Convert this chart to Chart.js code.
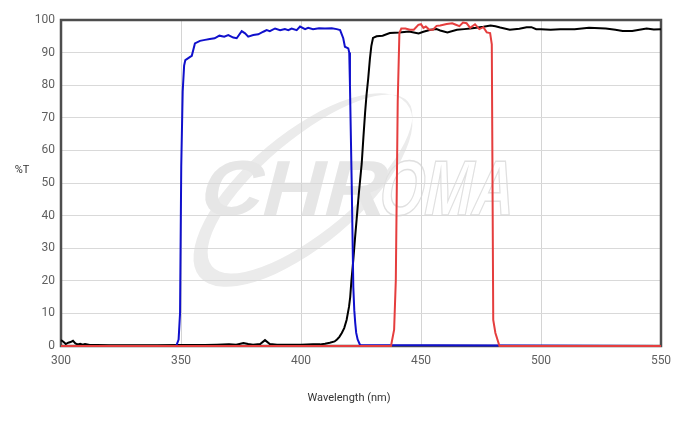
<!DOCTYPE html>
<html>
<head>
<meta charset="utf-8">
<script src="https://cdn.jsdelivr.net/npm/chart.js@4/dist/chart.umd.min.js"></script>
<style>
  html, body { margin: 0; padding: 0; background: #fff; }
  #wrap { width: 700px; height: 429px; position: relative; }
</style>
</head>
<body>
<div id="wrap"><canvas id="c"></canvas></div>
<script>
// ---- data (wavelength nm, %T) ----
const xTicks = [300, 350, 400, 450, 500, 550];
const yTicks = [0, 10, 20, 30, 40, 50, 60, 70, 80, 90, 100];

const blueX = [300, 348, 349, 349.6, 350.1, 350.7, 351.3, 351.8, 353.8, 354.5, 355.8, 357.9, 360, 362, 364, 366, 368, 369.7, 371.8, 373.2, 375.3, 376.7, 378, 380.1, 382.2, 384.3, 385.7, 387, 389.2, 391.3, 393.3, 394.7, 396.1, 398.2, 399.6, 401.7, 403, 405, 407.5, 410, 412.8, 414.9, 416.3, 417.6, 418.3, 419.7, 420.1, 420.4, 421.1, 421.8, 422.2, 422.6, 423, 423.6, 424.6, 550];
const blueY = [0, 0, 2, 10, 55, 78, 86, 87.7, 88.7, 89, 92.8, 93.6, 93.9, 94.2, 94.4, 95.2, 94.9, 95.4, 94.6, 94.4, 96.6, 95.9, 94.9, 95.4, 95.6, 96.4, 96.9, 96.6, 97.4, 96.9, 97.2, 96.9, 97.4, 96.9, 98, 97.2, 97.6, 97.2, 97.5, 97.4, 97.5, 97.2, 96.9, 94.4, 91.8, 91.3, 90, 80, 51, 18, 11, 7, 4, 2, 0.3, 0];

const blackX = [300, 301, 302, 303, 304, 305, 306, 307, 308, 309, 310, 312, 315, 320, 330, 340, 350, 360, 365, 370, 373, 376, 378, 380, 383, 385, 387, 390, 395, 400, 405, 408, 410, 412, 414, 415, 416, 417, 418, 419, 420, 420.5, 421, 421.8, 422.5, 423.2, 424, 425.3, 426, 426.7, 427.3, 428, 428.7, 429.3, 430, 431.5, 434, 437, 441, 445, 449, 451, 454, 456.5, 458, 461, 465, 468, 470.5, 473, 476, 479, 481, 483, 487, 491, 494, 496, 498, 500, 504, 508, 514, 520, 527, 531, 534, 538, 541, 544, 547, 550];
const blackY = [1.8, 1.3, 0.6, 1.0, 1.2, 1.6, 0.8, 0.5, 0.7, 0.4, 0.6, 0.3, 0.3, 0.2, 0.2, 0.2, 0.3, 0.3, 0.4, 0.5, 0.4, 0.9, 0.6, 0.4, 0.6, 1.8, 0.6, 0.4, 0.4, 0.4, 0.5, 0.5, 0.7, 1.0, 1.4, 2, 2.8, 4, 5.5, 8, 12, 15, 20, 26.5, 33, 39, 46, 56, 64, 71.5, 77, 82, 88, 92, 94.5, 95, 95.2, 96, 96.2, 96.5, 95.9, 96.4, 97, 97.2, 96.8, 96.2, 97, 97.2, 97.4, 97.6, 97.9, 98.3, 98.1, 97.7, 97, 97.3, 97.8, 97.8, 97.2, 97.2, 97, 97.2, 97.2, 97.6, 97.4, 97, 96.6, 96.6, 97, 97.4, 97.1, 97.2];

const redX = [300, 437.5, 438.8, 439.5, 440.3, 441, 441.8, 443.5, 445.4, 447, 448.9, 450, 451, 452, 453.5, 455, 456.5, 458, 460.7, 463, 464, 466, 467.5, 469, 470.5, 472.5, 474.3, 476, 477.4, 478.8, 479.5, 480.1, 481, 482.7, 550];
const redY = [0, 0, 5, 20, 75, 96, 97.4, 97.4, 97, 97, 98.5, 98.7, 97.6, 98, 97, 97, 98.2, 98.3, 98.8, 99, 98.7, 98.1, 99.2, 99, 97.6, 98.7, 97.2, 97.8, 96.2, 96, 92.5, 8, 4, 0, 0];

const xTitle = 'Wavelength (nm)';
const yTitle = '%T';

function pts(xs, ys) { return xs.map((x, i) => ({ x: x, y: ys[i] })); }

const decor = {
  id: 'decor',
  beforeDraw(chart) {
    const ctx = chart.ctx;
    ctx.save();
    // watermark swoosh (crescent)
    const rot = -40 * Math.PI / 180;
    ctx.beginPath();
    ctx.ellipse(303, 190, 135, 56, rot, 0, Math.PI * 2);
    ctx.ellipse(310, 184, 128, 46, rot, 0, Math.PI * 2);
    ctx.fillStyle = '#ebebeb';
    ctx.fill('evenodd');
    ctx.restore();

    // watermark text
    ctx.save();
    ctx.font = 'bold 78px "Liberation Sans", Arial, sans-serif';
    ctx.textBaseline = 'alphabetic';
    ctx.textAlign = 'left';
    ctx.translate(196, 215);
    ctx.save();
    ctx.transform(1.1, 0, -0.26, 1, 0, 0);
    ctx.fillStyle = '#e6e6e6';
    ctx.fillText('CHR', 0, 0);
    ctx.restore();
    ctx.translate(180, 0);
    ctx.transform(0.74, 0, -0.2, 1, 0, 0);
    ctx.strokeStyle = '#e0e0e0';
    ctx.lineWidth = 1.5;
    ctx.strokeText('OMA', 0, 0);
    ctx.restore();
  },
  beforeDatasetsDraw(chart) {
    const ctx = chart.ctx, a = chart.chartArea;
    ctx.save();
    ctx.strokeStyle = '#4d4d4d';
    ctx.lineWidth = 2.5;
    ctx.strokeRect(a.left, a.top, a.right - a.left, a.bottom - a.top);
    ctx.restore();
  },
  afterDraw(chart) {
    const ctx = chart.ctx;
    ctx.save();
    ctx.fillStyle = '#333';
    ctx.font = '11px Roboto, sans-serif';
    ctx.textAlign = 'center';
    ctx.textBaseline = 'middle';
    ctx.fillText(xTitle, 349, 398);
    ctx.fillText(yTitle, 22, 170);
    ctx.restore();
  }
};

const lineClip = { left: 2, right: 2, top: 2, bottom: 2 };

new Chart(document.getElementById('c'), {
  type: 'line',
  data: {
    datasets: [
      { label: 'Emission', data: pts(redX, redY), borderColor: '#e53e3e', order: 0, clip: lineClip },
      { label: 'Excitation', data: pts(blueX, blueY), borderColor: '#1010cc', order: 1, clip: lineClip },
      { label: 'Dichroic', data: pts(blackX, blackY), borderColor: '#000000', order: 2, clip: lineClip }
    ]
  },
  options: {
    responsive: true,
    maintainAspectRatio: false,
    animation: false,
    parsing: false,
    elements: {
      line: { borderWidth: 2, tension: 0, fill: false },
      point: { radius: 0, hoverRadius: 0 }
    },
    layout: { padding: { top: 20, right: 39, left: 0, bottom: 0 } },
    plugins: { legend: { display: false }, tooltip: { enabled: false }, title: { display: false } },
    scales: {
      x: {
        type: 'linear', min: 300, max: 550,
        afterBuildTicks(s) { s.ticks = xTicks.map(v => ({ value: v })); },
        afterFit(s) { s.height = 83; },
        grid: { color: '#d4d4d4', lineWidth: 1, drawTicks: false },
        border: { display: false },
        ticks: { padding: 8, color: '#5f5f5f', font: { family: 'Roboto', size: 12 }, maxRotation: 0 }
      },
      y: {
        type: 'linear', min: 0, max: 100,
        afterBuildTicks(s) { s.ticks = yTicks.map(v => ({ value: v })); },
        afterFit(s) { s.width = 61; },
        grid: { color: '#d9d9d9', lineWidth: 1, drawTicks: false },
        border: { display: false },
        ticks: { padding: 6, color: '#5f5f5f', font: { family: 'Roboto', size: 12 } }
      }
    }
  },
  plugins: [decor]
});
</script>
</body>
</html>
